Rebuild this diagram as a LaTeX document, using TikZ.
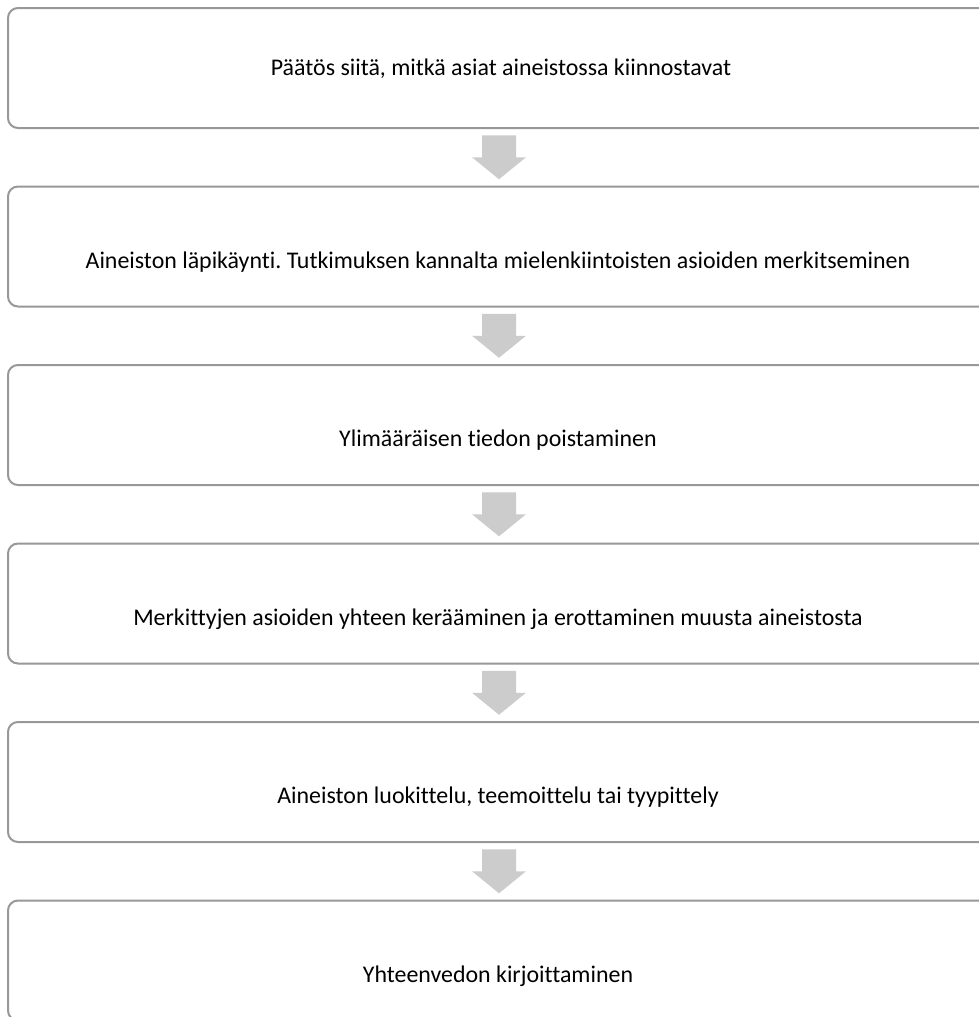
\documentclass[tikz,border=0pt]{standalone}
\usepackage{fontspec}
\setmainfont{Carlito}[Ligatures=NoCommon]
\frenchspacing
\usetikzlibrary{calc}
\definecolor{boxline}{RGB}{152,152,152}
\definecolor{arrowfill}{RGB}{204,204,204}
\tikzset{
  stepbox/.style={draw=boxline, line width=2pt, rounded corners=10pt, fill=white,
    minimum width=982pt, minimum height=120pt, inner sep=0pt},
  steptext/.style={anchor=base, inner sep=0pt, font=\fontsize{23.9}{28}\selectfont, text=black},
  blockarrow/.style={fill=arrowfill, draw=none}
}
\newcommand{\flowarrow}[1]{%
  \fill[blockarrow] ($(#1)+(-17pt,22pt)$) -- ($(#1)+(17pt,22pt)$) -- ($(#1)+(17pt,0pt)$)
    -- ($(#1)+(27pt,0pt)$) -- ($(#1)+(0pt,-22pt)$) -- ($(#1)+(-27pt,0pt)$)
    -- ($(#1)+(-17pt,0pt)$) -- cycle;}
\begin{document}
\begin{tikzpicture}[x=1pt,y=-1pt]
\clip (0,0) rectangle (979,1017);
\fill[white] (0,0) rectangle (979,1017);
\node[stepbox] (b1) at (499,68) {};
\node[stepbox] (b2) at (499,246.5) {};
\node[stepbox] (b3) at (499,425) {};
\node[stepbox] (b4) at (499,603.5) {};
\node[stepbox] (b5) at (499,782) {};
\node[stepbox] (b6) at (499,960.5) {};
\node[steptext] (t1) at (501,75) {Päätös siitä, mitkä asiat aineistossa kiinnostavat};
\node[steptext] (t2) at (498,268) {Aineiston läpikäynti. Tutkimuksen kannalta mielenkiintoisten asioiden merkitseminen};
\node[steptext] (t3) at (498,446.5) {Ylimääräisen tiedon poistaminen};
\node[steptext] (t4) at (498,625) {Merkittyjen asioiden yhteen kerääminen ja erottaminen muusta aineistosta};
\node[steptext] (t5) at (498,803.5) {Aineiston luokittelu, teemoittelu tai tyypittely};
\node[steptext] (t6) at (498,982) {Yhteenvedon kirjoittaminen};
\coordinate (a1) at ($(b1.south)!0.5!(b2.north)$);
\coordinate (a2) at ($(b2.south)!0.5!(b3.north)$);
\coordinate (a3) at ($(b3.south)!0.5!(b4.north)$);
\coordinate (a4) at ($(b4.south)!0.5!(b5.north)$);
\coordinate (a5) at ($(b5.south)!0.5!(b6.north)$);
\flowarrow{a1}
\flowarrow{a2}
\flowarrow{a3}
\flowarrow{a4}
\flowarrow{a5}
\end{tikzpicture}
\end{document}
